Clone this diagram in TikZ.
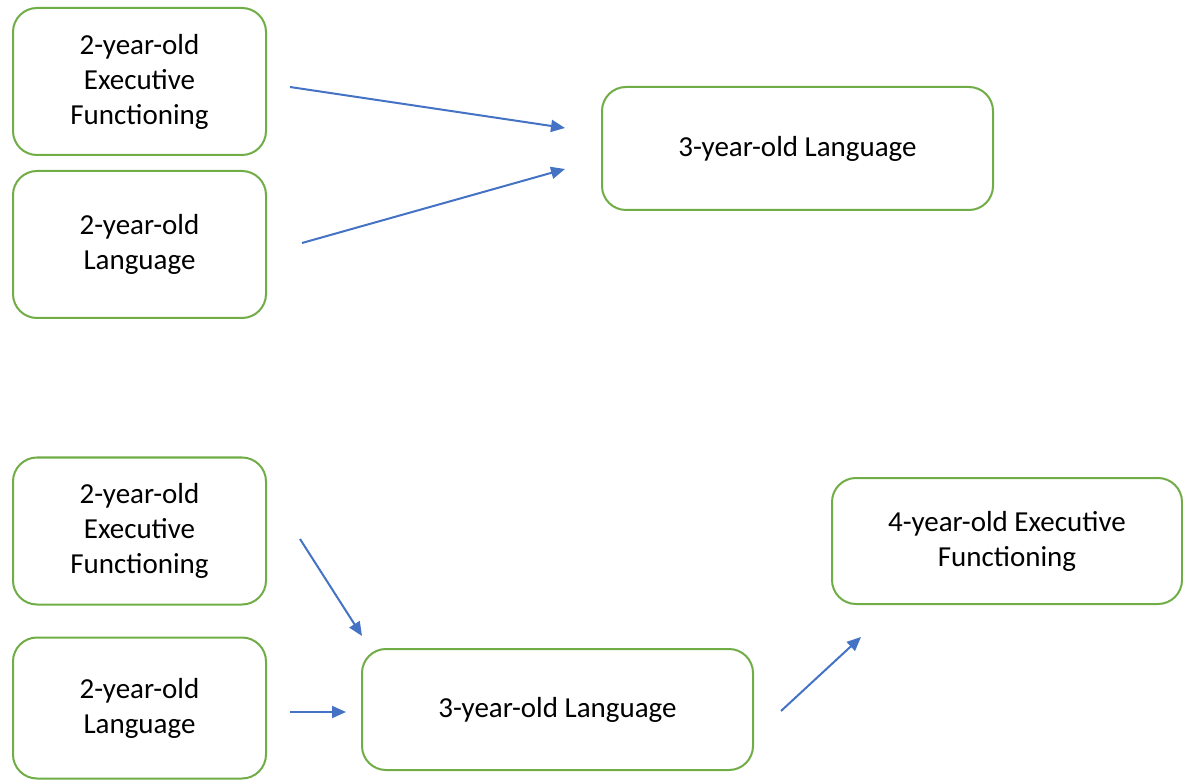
\documentclass[tikz,border=0pt]{standalone}
\usepackage{fontspec}
\setmainfont{Carlito}
\usetikzlibrary{arrows.meta}
\definecolor{boxgreen}{HTML}{70AD47}
\definecolor{arrowblue}{HTML}{4472C4}

\begin{document}
\begin{tikzpicture}[x=0.5pt,y=-0.5pt,
        box/.style={draw=boxgreen, line width=1pt, rounded corners=12pt, align=center,
                    inner sep=0pt, font=\fontsize{14.5}{17.5}\selectfont},
        small/.style={box, minimum width=126.5pt, minimum height=73.5pt},
        wide/.style={box, minimum width=195.5pt, minimum height=61.5pt},
        link/.style={draw=arrowblue, line width=1pt, -{Triangle[length=7pt,width=6pt]}}]
        \useasboundingbox (0,0) rectangle (1183,780);

        % first model
        \node[small] (ef2a) at (139.5,81.5) {2-year-old\\Executive\\Functioning};
        \node[small] (lang2a) at (139.5,244.5) {2-year-old\\Language};
        \node[wide] (lang3a) at (797.5,148.5) {3-year-old Language};

        \coordinate (ef2aOut) at (290,87);
        \coordinate (lang2aOut) at (302,243);
        \coordinate (lang3aInA) at (565,128);
        \coordinate (lang3aInB) at (565,169);
        \draw[link] (ef2aOut) -- (lang3aInA);
        \draw[link] (lang2aOut) -- (lang3aInB);

        % second model
        \node[small] (ef2b) at (139.5,531) {2-year-old\\Executive\\Functioning};
        \node[box, minimum width=126.5pt, minimum height=70.5pt] (lang2b) at (139.5,708) {2-year-old\\Language};
        \node[wide, minimum height=60.5pt] (lang3b) at (557.5,709.5) {3-year-old Language};
        \node[box, minimum width=175pt, minimum height=63pt] (ef4) at (1007,541) {4-year-old Executive\\Functioning};

        \coordinate (ef2bOut) at (300,539);
        \coordinate (lang3bInA) at (362,636);
        \coordinate (lang2bOut) at (290,712);
        \coordinate (lang3bInB) at (346,712);
        \coordinate (lang3bOut) at (781,711);
        \coordinate (ef4In) at (861,637);
        \draw[link] (ef2bOut) -- (lang3bInA);
        \draw[link] (lang2bOut) -- (lang3bInB);
        \draw[link] (lang3bOut) -- (ef4In);
\end{tikzpicture}
\end{document}
